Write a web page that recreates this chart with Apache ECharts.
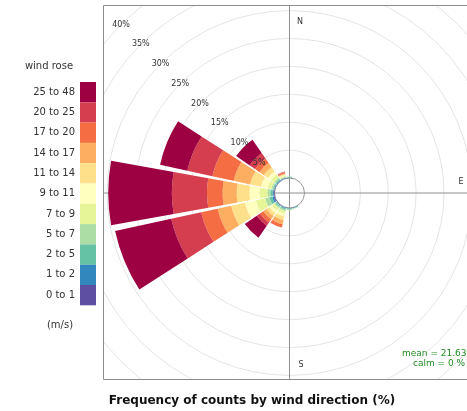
<!DOCTYPE html>
<html><head><meta charset="utf-8">
<script src="https://cdn.jsdelivr.net/npm/echarts@6/dist/echarts.min.js"></script>
<style>html,body{margin:0;padding:0;background:#fff}#c{width:467px;height:411px}</style>
</head><body><div id="c"></div>
<script>
// wind direction sectors (22.5 deg), clockwise from North
const directions = ['N','NNE','NE','ENE','E','ESE','SE','SSE','S','SSW','SW','WSW','W','WNW','NW','NNW'];
// wind speed bins (m/s)
const speedBins = ['0 to 1','1 to 2','2 to 5','5 to 7','7 to 9','9 to 11','11 to 14','14 to 17','17 to 20','20 to 25','25 to 48'];
const binColors = ['#5e4fa2','#3288bd','#66c2a5','#abdda4','#e6f598','#ffffbf','#fee08b','#fdae61','#f46d43','#d53e4f','#9e0142'];
// frequency (%) of each speed bin, per direction (N ... NNW)
const ws0to1   = [0.05,0,0,0,0,0,0,0.05,0.05,0.05,0.05,0.2,0.15,0.05,0.05,0.05];
const ws1to2   = [0.05,0,0,0,0,0,0,0.05,0.05,0.1,0.1,0.3,0.2,0.1,0.1,0.05];
const ws2to5   = [0.1,0,0,0,0,0,0,0.1,0.15,0.2,0.2,0.5,0.4,0.2,0.2,0.1];
const ws5to7   = [0.05,0,0,0,0,0,0,0.05,0.1,0.3,0.3,0.8,0.5,0.3,0.3,0.15];
const ws7to9   = [0,0,0,0,0,0,0,0,0.05,0.5,0.5,1.7,1.45,0.7,0.7,0.15];
const ws9to11  = [0,0,0,0,0,0,0,0,0,0.5,0.6,2.0,1.8,1.2,0.7,0.15];
const ws11to14 = [0,0,0,0,0,0,0,0,0,0.6,0.6,2.5,2.3,2.0,0.9,0.15];
const ws14to17 = [0,0,0,0,0,0,0,0,0,0.8,0.7,2.5,2.5,3.0,0.9,0.15];
const ws17to20 = [0,0,0,0,0,0,0,0,0,0.6,0.7,3.0,2.8,3.9,1.0,0.2];
const ws20to25 = [0,0,0,0,0,0,0,0,0,0,0.7,5.5,6.3,4.6,1.2,0.1];
const ws25to48 = [0,0,0,0,0,0,0,0,0,0,2.6,10.3,11.4,5.0,2.9,0];
const binValues = [ws0to1,ws1to2,ws2to5,ws5to7,ws7to9,ws9to11,ws11to14,ws14to17,ws17to20,ws20to25,ws25to48];
// radial grid (%)
const ringTicks = [0,5,10,15,20,25,30,35,40];
const ringLabels = [5,10,15,20,25,30,35,40];
const cardinalTicks = [45,135,225,315]; // N,E,S,W on an axis starting at 135 deg
const statsText = ['mean = 21.635','calm = 0 %'];

const CX = 289.5, CY = 193, PX = 5.58, OFF = 15;
const RMAX = 45, RMIN = -OFF / PX, R = (RMAX - RMIN) * PX;
const FONT = 'DejaVu Sans';

const chart = echarts.init(document.getElementById('c'), null, {renderer:'canvas'});
const ringColors = ringTicks.map((t,i)=> i===0 ? '#9a9a9a' : '#e4e4e4');

const option = {
  animation:false,
  textStyle:{fontFamily:FONT},
  polar:[{center:[CX,CY],radius:R},{center:[CX,CY],radius:R},{center:[CX,CY],radius:R}],
  angleAxis:[
    {polarIndex:0,type:'category',data:directions,startAngle:90+11.25,clockwise:true,show:false},
    {polarIndex:1,type:'value',min:0,max:360,startAngle:135,clockwise:true,z:1,
     axisLine:{show:false},axisTick:{show:false,customValues:cardinalTicks},axisLabel:{show:false},
     splitLine:{show:true,lineStyle:{color:'#8f8f8f',width:1}}},
    {polarIndex:2,type:'value',min:0,max:360,startAngle:135,clockwise:true,show:false}
  ],
  radiusAxis:[
    {polarIndex:0,type:'value',min:RMIN,max:RMAX,show:false},
    {polarIndex:1,type:'value',min:RMIN,max:RMAX,z:1,
     axisLine:{show:false},axisTick:{show:false,customValues:ringTicks},axisLabel:{show:false},
     splitLine:{show:true,lineStyle:{color:ringColors,width:1}}},
    {polarIndex:2,type:'value',min:RMIN,max:RMAX,z:6,
     axisLine:{show:false},axisTick:{show:false,customValues:ringLabels},splitLine:{show:false},
     axisLabel:{show:true,customValues:ringLabels,formatter:v=>v+'%',margin:0,align:'center',verticalAlign:'middle',fontSize:8,color:'#333',fontFamily:FONT}}
  ],
  legend:{
    data:speedBins.slice().reverse(),
    orient:'vertical',align:'right',right:467-96,top:82,padding:0,itemGap:0,
    itemWidth:16,itemHeight:20.3,icon:'rect',selectedMode:false,z:20,
    itemStyle:{borderWidth:0},
    textStyle:{fontSize:10,color:'#333',fontFamily:FONT}
  },
  graphic:[
    {type:'rect',z:10,silent:true,shape:{x:0,y:0,width:103,height:411},style:{fill:'#fff'}},
    {type:'rect',z:10,silent:true,shape:{x:0,y:0,width:467,height:5},style:{fill:'#fff'}},
    {type:'rect',z:10,silent:true,shape:{x:0,y:380,width:467,height:31},style:{fill:'#fff'}},
    {type:'rect',z:11,silent:true,shape:{x:103.5,y:5.5,width:420,height:374},style:{fill:null,stroke:'#8c8c8c',lineWidth:1}},
    {type:'text',z:20,style:{text:'wind rose',x:49,y:66,align:'center',verticalAlign:'middle',font:'10px "DejaVu Sans"',fill:'#333'}},
    {type:'text',z:20,style:{text:'(m/s)',x:60,y:325,align:'center',verticalAlign:'middle',font:'10px "DejaVu Sans"',fill:'#333'}},
    {type:'text',z:20,style:{text:'Frequency of counts by wind direction (%)',x:252,y:401,align:'center',verticalAlign:'middle',font:'bold 12px "DejaVu Sans"',fill:'#111'}},
    {type:'text',z:20,style:{text:'N',x:300,y:22,align:'center',verticalAlign:'middle',font:'8px "DejaVu Sans"',fill:'#333'}},
    {type:'text',z:20,style:{text:'E',x:461,y:182,align:'center',verticalAlign:'middle',font:'8px "DejaVu Sans"',fill:'#333'}},
    {type:'text',z:20,style:{text:'S',x:301,y:365,align:'center',verticalAlign:'middle',font:'8px "DejaVu Sans"',fill:'#333'}},
    {type:'text',z:20,style:{text:statsText[0],x:402,y:354,align:'left',verticalAlign:'middle',font:'9px "DejaVu Sans"',fill:'#228B22'}},
    {type:'text',z:20,style:{text:statsText[1],x:413,y:364,align:'left',verticalAlign:'middle',font:'9px "DejaVu Sans"',fill:'#228B22'}}
  ],
  series: speedBins.map((name,i)=>({
    type:'bar',coordinateSystem:'polar',polarIndex:0,name:name,stack:'ws',
    data:binValues[i],barCategoryGap:'9%',z:2,silent:true,
    itemStyle:{color:binColors[i],borderWidth:0}
  }))
};
chart.setOption(option);
</script></body></html>
